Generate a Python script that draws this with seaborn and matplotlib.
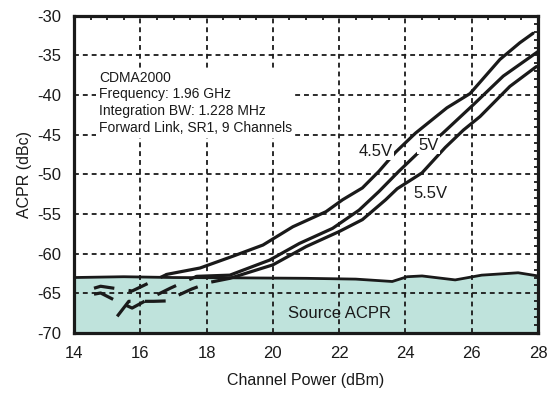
import numpy as np
import pandas as pd
import matplotlib
matplotlib.use("Agg")
import matplotlib.pyplot as plt
import seaborn as sns
from matplotlib.ticker import MultipleLocator

sns.set_theme(style="white")
plt.rcParams['font.family'] = ['Liberation Sans', 'DejaVu Sans']
plt.rcParams['axes.unicode_minus'] = False

# Source ACPR (floor of the generator)
src_x = [14.0, 15.5, 17.0, 19.3, 21.0, 22.5, 23.6, 24.05, 24.5, 25.5, 26.3, 27.4, 28.0]
src_y = [-63.0, -62.9, -63.0, -63.05, -63.1, -63.2, -63.5, -62.9, -62.8, -63.3, -62.7, -62.4, -62.8]

# measured ACPR, solid part (above the source floor)
x_45 = [16.8, 17.3, 17.8, 18.8, 19.7, 20.6, 21.6, 22.1, 22.7, 23.2, 23.7, 24.3, 25.25, 25.95, 26.85, 27.45, 27.85]
y_45 = [-62.6, -62.2, -61.8, -60.3, -58.9, -56.6, -54.7, -53.2, -51.7, -49.6, -47.2, -44.8, -41.6, -39.8, -35.5, -33.4, -32.2]
x_50 = [17.7, 18.7, 19.9, 20.8, 21.8, 22.6, 23.2, 23.8, 24.35, 25.1, 26.05, 26.95, 28.0]
y_50 = [-62.85, -62.7, -60.8, -58.7, -56.8, -54.5, -52.15, -49.6, -47.4, -44.9, -41.2, -37.6, -34.5]
x_55 = [18.7, 20.0, 21.0, 22.0, 22.7, 23.4, 23.75, 24.5, 25.2, 25.75, 26.25, 27.15, 27.95]
y_55 = [-63.1, -61.4, -59.1, -57.2, -55.7, -53.2, -51.8, -49.8, -46.6, -44.4, -42.7, -38.9, -36.4]

# dashed part (below the source floor)
xd_45 = [14.6, 14.8, 15.2, 15.75, 16.35, 16.8]
yd_45 = [-64.35, -64.1, -64.35, -64.7, -63.5, -62.6]
xd_50 = [14.6, 14.8, 15.2, 15.75, 16.3, 16.9, 17.4, 17.7]
yd_50 = [-65.1, -64.95, -65.8, -66.85, -65.6, -64.35, -63.4, -62.85]
xd_55 = [15.3, 15.65, 15.85, 16.4, 16.8, 16.95, 17.55, 18.1, 18.7]
yd_55 = [-67.9, -66.0, -66.0, -66.0, -65.95, -65.6, -64.45, -63.6, -63.1]

labels = ['4.5V', '5V', '5.5V']
label_pos = [(23.1, -47.1), (24.7, -46.3), (24.75, -52.4)]

info = "CDMA2000\nFrequency: 1.96 GHz\nIntegration BW: 1.228 MHz\nForward Link, SR1, 9 Channels"

ink = '#1a1a1a'
fig, ax = plt.subplots(figsize=(5.49, 3.96), dpi=100)
fig.subplots_adjust(left=0.135, right=0.98, bottom=0.159, top=0.96)

ax.fill_between(src_x, -70, src_y, color='#bfe3dc', lw=0, zorder=1)
sns.lineplot(x=src_x, y=src_y, ax=ax, color=ink, lw=2.0, zorder=3)

for xs, ys in [(x_45, y_45), (x_50, y_50), (x_55, y_55)]:
    sns.lineplot(x=xs, y=ys, ax=ax, color=ink, lw=2.3, sort=False, zorder=3)
for xs, ys in [(xd_45, yd_45), (xd_50, yd_50), (xd_55, yd_55)]:
    sns.lineplot(x=xs, y=ys, ax=ax, color=ink, lw=2.3, sort=False, zorder=3,
                 dashes=False, linestyle=(0, (6.5, 4.5)))

for lab, (lx, ly) in zip(labels, label_pos):
    ax.text(lx, ly, lab, ha='center', va='center', fontsize=12, color=ink, zorder=5,
            bbox=dict(facecolor='white', edgecolor='none', pad=1.0))

ax.text(14.75, -36.9, info, ha='left', va='top', fontsize=10, color=ink,
        linespacing=1.25, zorder=5,
        bbox=dict(facecolor='white', edgecolor='none', pad=2.0))
ax.text(22, -67.5, 'Source ACPR', ha='center', va='center', fontsize=12, color=ink, zorder=5)

ax.set_xlim(14, 28)
ax.set_ylim(-70, -30)
ax.xaxis.set_major_locator(MultipleLocator(2))
ax.xaxis.set_minor_locator(MultipleLocator(0.5))
ax.yaxis.set_major_locator(MultipleLocator(5))
ax.yaxis.set_minor_locator(MultipleLocator(1))
ax.grid(True, which='major', color=ink, lw=1.3, linestyle=(0, (2.7, 2.2)), zorder=2)
ax.set_axisbelow(False)
ax.tick_params(which='both', direction='in', top=True, right=True, colors=ink,
               labelcolor=ink, labelsize=12)
ax.tick_params(which='major', length=0, pad=9)
ax.tick_params(which='minor', length=3, width=1.3)
for s in ax.spines.values():
    s.set_linewidth(2.3)
    s.set_color(ink)
    s.set_zorder(6)

ax.set_xlabel('Channel Power (dBm)', fontsize=11.5, color=ink, labelpad=9)
ax.set_ylabel('ACPR (dBc)', fontsize=11.5, color=ink, labelpad=4)

fig.savefig('out.png', dpi=100)
